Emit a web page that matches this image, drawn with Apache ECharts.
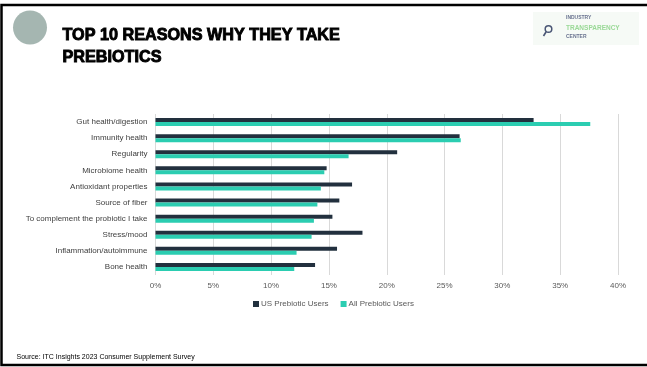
<!DOCTYPE html>
<html>
<head>
<meta charset="utf-8">
<script src="https://cdn.jsdelivr.net/npm/echarts@6/dist/echarts.min.js"></script>
<style>
html,body{margin:0;padding:0;background:#fff;}
#chart{width:647px;height:367px;}
</style>
</head>
<body>
<div id="chart"></div>
<script>
const categories = ["Gut health/digestion","Immunity health","Regularity","Microbiome health","Antioxidant properties","Source of fiber","To complement the probiotic I take","Stress/mood","Inflammation/autoimmune","Bone health"];
const usValues = [32.7, 26.3, 20.9, 14.8, 17.0, 15.9, 15.3, 17.9, 15.7, 13.8];
const allValues = [37.6, 26.4, 16.7, 14.6, 14.3, 14.0, 13.7, 13.5, 12.2, 12.0];
const seriesNames = ["US Prebiotic Users", "All Prebiotic Users"];
const xTicks = [0, 5, 10, 15, 20, 25, 30, 35, 40];

const chart = echarts.init(document.getElementById('chart'), null, {renderer:'canvas'});
const font = "'Liberation Sans', Arial, sans-serif";
chart.setOption({
  animation:false,
  backgroundColor:'#ffffff',
  textStyle:{fontFamily:font},
  grid:{left:155.5, right:29, top:114, bottom:92, containLabel:false},
  legend:{
    data:seriesNames, left:248, top:295, itemWidth:6, itemHeight:6, itemGap:12,
    icon:'rect',
    itemStyle:{borderWidth:0},
    textStyle:{fontSize:8, color:'#595959', fontFamily:font, padding:[0,0,0,-3]}
  },
  xAxis:{
    type:'value', min:xTicks[0], max:xTicks[xTicks.length-1], interval:5,
    axisLine:{show:false}, axisTick:{show:false},
    splitLine:{show:true, lineStyle:{color:'#d9d9d9', width:1}},
    axisLabel:{formatter:'{value}%', fontSize:8, color:'#595959', margin:7, fontFamily:font}
  },
  yAxis:{
    type:'category', data:categories, inverse:true,
    axisLine:{show:false}, axisTick:{show:false},
    axisLabel:{fontSize:8, color:'#404040', margin:8, fontFamily:font}
  },
  series:[
    {name:seriesNames[0], type:'bar', data:usValues, barWidth:4, barGap:'0%',
     itemStyle:{color:'#22303e'}},
    {name:seriesNames[1], type:'bar', data:allValues, barWidth:4, barGap:'0%',
     itemStyle:{color:'#2bcdb1'}}
  ],
  graphic:[
    {type:'rect', shape:{x:1.5, y:5, width:647, height:360}, style:{fill:null, stroke:'#000', lineWidth:2.5}, z:100},
    {type:'circle', shape:{cx:30, cy:27.5, r:17}, style:{fill:'#a5b6b1'}},
    {type:'text', x:62.5, y:35.8, style:{text:'TOP 10 REASONS WHY THEY TAKE', font:"bold 16.2px 'Liberation Sans', Arial, sans-serif", fill:'#000', stroke:'#000', lineWidth:0.9, verticalAlign:'middle'}},
    {type:'text', x:62.5, y:57.4, style:{text:'PREBIOTICS', font:"bold 16.2px 'Liberation Sans', Arial, sans-serif", fill:'#000', stroke:'#000', lineWidth:0.9, verticalAlign:'middle'}},
    {type:'text', x:16.5, y:356.7, style:{text:'Source: ITC Insights 2023 Consumer Supplement Survey', font:"7px 'Liberation Sans', Arial, sans-serif", fill:'#000', verticalAlign:'middle'}},
    {type:'rect', shape:{x:533, y:12, width:106, height:33}, style:{fill:'#f6faf6'}},
    {type:'circle', shape:{cx:548.5, cy:29, r:3.3}, style:{fill:null, stroke:'#4a5675', lineWidth:1.5}},
    {type:'line', shape:{x1:546, y1:32, x2:543.5, y2:36}, style:{stroke:'#4a5675', lineWidth:1.6}},
    {type:'text', x:566, y:18, style:{text:'INDUSTRY', font:"bold 5px 'Liberation Sans', Arial, sans-serif", fill:'#6a7390', verticalAlign:'middle'}},
    {type:'text', x:566, y:28, style:{text:'TRANSPARENCY', font:"bold 6.5px 'Liberation Sans', Arial, sans-serif", fill:'#9ad997', verticalAlign:'middle'}},
    {type:'text', x:566, y:37, style:{text:'CENTER', font:"bold 5px 'Liberation Sans', Arial, sans-serif", fill:'#6a7390', verticalAlign:'middle'}}
  ]
});
</script>
</body>
</html>
